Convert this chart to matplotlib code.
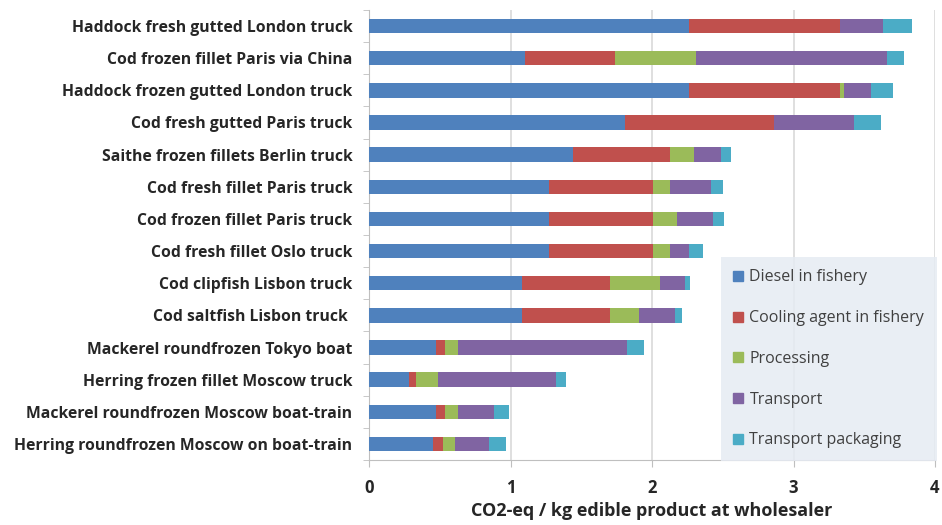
import numpy as np
import matplotlib.pyplot as plt
from matplotlib.lines import Line2D

plt.rcParams['font.family'] = ['Open Sans', 'DejaVu Sans']

products = [
    "Haddock fresh gutted London truck",
    "Cod frozen fillet Paris via China",
    "Haddock frozen gutted London truck",
    "Cod fresh gutted Paris truck",
    "Saithe frozen fillets Berlin truck",
    "Cod fresh fillet Paris truck",
    "Cod frozen fillet Paris truck",
    "Cod fresh fillet Oslo truck",
    "Cod clipfish Lisbon truck",
    "Cod saltfish Lisbon truck ",
    "Mackerel roundfrozen Tokyo boat",
    "Herring frozen fillet Moscow truck",
    "Mackerel roundfrozen Moscow boat-train",
    "Herring roundfrozen Moscow on boat-train",
]

diesel = [2.26, 1.10, 2.26, 1.81, 1.44, 1.27, 1.27, 1.27, 1.08, 1.08, 0.47, 0.28, 0.47, 0.45]
cooling = [1.07, 0.64, 1.07, 1.05, 0.69, 0.74, 0.74, 0.74, 0.62, 0.62, 0.07, 0.05, 0.07, 0.07]
processing = [0.00, 0.57, 0.03, 0.00, 0.17, 0.12, 0.17, 0.12, 0.36, 0.21, 0.09, 0.16, 0.09, 0.09]
transport = [0.30, 1.35, 0.19, 0.57, 0.19, 0.285, 0.25, 0.13, 0.17, 0.25, 1.19, 0.83, 0.25, 0.24]
packaging = [0.21, 0.12, 0.15, 0.19, 0.07, 0.09, 0.076, 0.10, 0.04, 0.05, 0.12, 0.07, 0.11, 0.12]

series = [diesel, cooling, processing, transport, packaging]
names = ["Diesel in fishery", "Cooling agent in fishery", "Processing",
         "Transport", "Transport packaging"]
colors = ['#4F81BD', '#C0504D', '#9BBB59', '#8064A2', '#4BACC6']

fig = plt.figure(figsize=(9.42, 5.25), dpi=100)
ax = fig.add_axes([369 / 942, 65 / 525, 566 / 942, 450 / 525])

y = np.arange(len(products))
left = np.zeros(len(products))
for vals, c in zip(series, colors):
    ax.barh(y, vals, left=left, height=0.45, color=c, zorder=3)
    left += np.array(vals)

ax.set_ylim(len(products) - 0.5, -0.5)
ax.set_xlim(0, 4)
ax.set_yticks(y)
ax.set_yticklabels(products, fontsize=11.3, fontweight='bold', color='#262626')
ax.set_yticks(np.arange(len(products) + 1) - 0.5, minor=True)
ax.tick_params(axis='y', which='major', length=0, pad=12)
ax.tick_params(axis='y', which='minor', length=4, color='#BFBFBF')

ax.set_xticks([0, 1, 2, 3, 4])
ax.set_xticklabels(['0', '1', '2', '3', '4'], fontsize=12, fontweight='bold', color='#262626')
ax.tick_params(axis='x', length=5, color='#BFBFBF', pad=9)
ax.set_xlabel("CO2-eq / kg edible product at wholesaler", fontsize=13,
              fontweight='bold', color='#262626', labelpad=3)

ax.grid(axis='x', color='#D9D9D9', linewidth=1.2, zorder=0)
for s in ['top', 'right']:
    ax.spines[s].set_visible(False)
for s in ['left', 'bottom']:
    ax.spines[s].set_color('#BFBFBF')

handles = [Line2D([], [], marker='s', linestyle='none', markersize=7,
                  markerfacecolor=c, markeredgecolor=c) for c in colors]
leg = ax.legend(handles, names, loc='upper left',
                bbox_to_anchor=(721 / 942, 1 - 257 / 525), bbox_transform=fig.transFigure,
                fontsize=11.5, labelspacing=1.55, handlelength=0.6, handletextpad=0.4,
                borderpad=0.78, borderaxespad=0, fancybox=False, framealpha=0.85)
leg.get_frame().set_facecolor('#E6EBF3')
leg.get_frame().set_edgecolor('none')
for t in leg.get_texts():
    t.set_color('#404040')

fig.savefig('out.png', dpi=100)
